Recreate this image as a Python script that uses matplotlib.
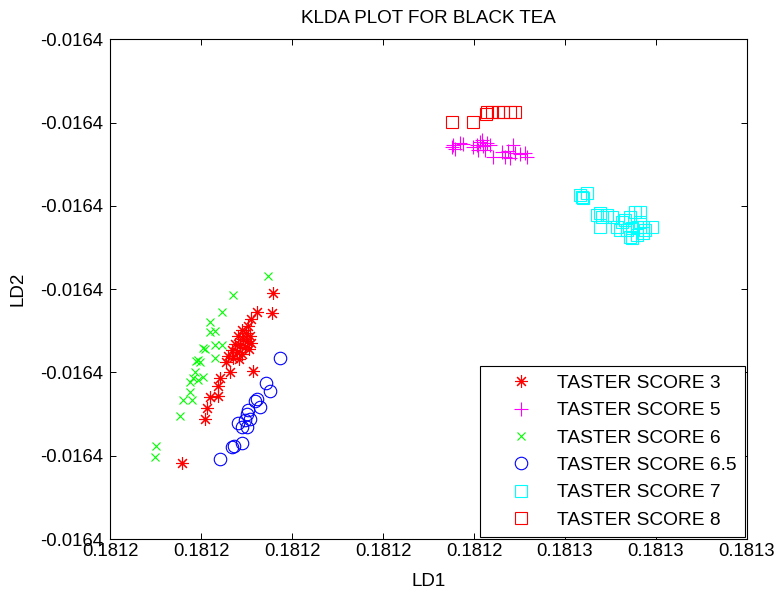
import numpy as np
import matplotlib
matplotlib.use("Agg")
import matplotlib.pyplot as plt
from matplotlib.ticker import FormatStrFormatter

plt.rcParams['font.family'] = ['Liberation Sans', 'DejaVu Sans']

# LD1 / LD2 scores
ld1_s3 = [0.1811958, 0.1811923, 0.1811956, 0.1811910, 0.1811903, 0.1811890, 0.1811899, 0.1811908,
          0.1811881, 0.1811892, 0.1811901, 0.1811910, 0.1811875, 0.1811886, 0.1811897, 0.1811905,
          0.1811868, 0.1811879, 0.1811890, 0.1811859, 0.1811870, 0.1811884, 0.1811864, 0.1811914,
          0.1811842, 0.1811837, 0.1811820, 0.1811837, 0.1811813, 0.1811809, 0.1811758, 0.1811855]
ld2_s3 = [-0.01640009, -0.01640055, -0.01640057, -0.01640072, -0.01640088, -0.01640098, -0.01640105, -0.01640112,
          -0.01640112, -0.01640120, -0.01640124, -0.01640129, -0.01640132, -0.01640134, -0.01640139, -0.01640144,
          -0.01640146, -0.01640151, -0.01640156, -0.01640160, -0.01640165, -0.01640168, -0.01640199, -0.01640196,
          -0.01640213, -0.01640232, -0.01640259, -0.01640256, -0.01640285, -0.01640312, -0.01640417, -0.01640175]

ld1_s5 = [0.1812354, 0.1812358, 0.1812369, 0.1812376, 0.1812352, 0.1812398, 0.1812407, 0.1812413,
          0.1812418, 0.1812420, 0.1812429, 0.1812435, 0.1812424, 0.1812409, 0.1812442, 0.1812462,
          0.1812468, 0.1812479, 0.1812486, 0.1812490, 0.1812501, 0.1812512, 0.1812517, 0.1812475]
ld2_s5 = [-0.01639654, -0.01639663, -0.01639649, -0.01639651, -0.01639659, -0.01639659, -0.01639654, -0.01639647,
          -0.01639642, -0.01639656, -0.01639649, -0.01639654, -0.01639666, -0.01639666, -0.01639683, -0.01639671,
          -0.01639683, -0.01639685, -0.01639654, -0.01639673, -0.01639675, -0.01639673, -0.01639683, -0.01639668]

ld1_s6 = [0.1811947, 0.1811870, 0.1811846, 0.1811820, 0.1811820, 0.1811831, 0.1811809, 0.1811804,
          0.1811831, 0.1811846, 0.1811793, 0.1811798, 0.1811789, 0.1811831, 0.1811787, 0.1811782,
          0.1811776, 0.1811804, 0.1811793, 0.1811776, 0.1811760, 0.1811780, 0.1811754, 0.1811701, 0.1811699]
ld2_s6 = [-0.01639968, -0.01640014, -0.01640055, -0.01640079, -0.01640103, -0.01640100, -0.01640144, -0.01640141,
          -0.01640134, -0.01640134, -0.01640170, -0.01640175, -0.01640172, -0.01640165, -0.01640199, -0.01640213,
          -0.01640223, -0.01640211, -0.01640218, -0.01640247, -0.01640266, -0.01640266, -0.01640305, -0.01640377,
          -0.01640403]

ld1_s65 = [0.1811974, 0.1811943, 0.1811952, 0.1811923, 0.1811919, 0.1811930, 0.1811903, 0.1811901,
           0.1811897, 0.1811908, 0.1811881, 0.1811890, 0.1811901, 0.1811868, 0.1811873, 0.1811890, 0.1811842]
ld2_s65 = [-0.01640165, -0.01640225, -0.01640244, -0.01640264, -0.01640268, -0.01640283, -0.01640290, -0.01640300,
           -0.01640314, -0.01640312, -0.01640321, -0.01640331, -0.01640331, -0.01640379, -0.01640377, -0.01640369,
           -0.01640408]

ld1_s7 = [0.1812633, 0.1812637, 0.1812648, 0.1812640, 0.1812677, 0.1812670, 0.1812681, 0.1812692,
          0.1812703, 0.1812677, 0.1812714, 0.1812725, 0.1812732, 0.1812743, 0.1812754, 0.1812765,
          0.1812736, 0.1812747, 0.1812758, 0.1812771, 0.1812791, 0.1812743, 0.1812758, 0.1812771,
          0.1812747, 0.1812721, 0.1812765, 0.1812776]
ld2_s7 = [-0.01639774, -0.01639779, -0.01639769, -0.01639781, -0.01639817, -0.01639822, -0.01639827, -0.01639822,
          -0.01639827, -0.01639851, -0.01639851, -0.01639839, -0.01639834, -0.01639827, -0.01639815, -0.01639815,
          -0.01639858, -0.01639853, -0.01639851, -0.01639851, -0.01639851, -0.01639875, -0.01639870, -0.01639865,
          -0.01639877, -0.01639858, -0.01639839, -0.01639858]

ld1_s8 = [0.1812352, 0.1812398, 0.1812426, 0.1812429, 0.1812440, 0.1812453, 0.1812464, 0.1812479, 0.1812490]
ld2_s8 = [-0.01639599, -0.01639599, -0.01639579, -0.01639575, -0.01639575, -0.01639575, -0.01639575,
          -0.01639575, -0.01639575]

x_ticks = [0.18116, 0.18118, 0.18120, 0.18122, 0.18124, 0.18126, 0.18128, 0.18130]
y_ticks = [-0.016406, -0.016404, -0.016402, -0.016400, -0.016398, -0.016396, -0.016394]

fig = plt.figure(figsize=(7.76, 5.92), dpi=100)
ax = fig.add_axes([110 / 776, 53 / 592, 637 / 776, 499.7 / 592])

# MATLAB style markers
ax.plot(ld1_s3, ld2_s3, ls='none', marker=(8, 2, 0), ms=9, color='#ff0000', mew=0.8, label='TASTER SCORE 3')
ax.plot(ld1_s5, ld2_s5, ls='none', marker='+', ms=9.5, color='#ff00ff', mew=0.8, label='TASTER SCORE 5')
ax.plot(ld1_s6, ld2_s6, ls='none', marker='x', ms=5.5, color='#00ff00', mew=0.8, label='TASTER SCORE 6')
ax.plot(ld1_s65, ld2_s65, ls='none', marker='o', ms=9, mfc='none', mec='#0000ff', mew=0.8, label='TASTER SCORE 6.5')
ax.plot(ld1_s7, ld2_s7, ls='none', marker='s', ms=8.6, mfc='none', mec='#00ffff', mew=0.8, label='TASTER SCORE 7')
ax.plot(ld1_s8, ld2_s8, ls='none', marker='s', ms=8.6, mfc='none', mec='#ff0000', mew=0.8, label='TASTER SCORE 8')

ax.set_xlim(x_ticks[0], x_ticks[-1])
ax.set_ylim(y_ticks[0], y_ticks[-1])
ax.set_xticks(x_ticks)
ax.set_yticks(y_ticks)
ax.xaxis.set_major_formatter(FormatStrFormatter('%.4f'))
ax.yaxis.set_major_formatter(FormatStrFormatter('%.4f'))
ax.tick_params(direction='in', top=True, right=True, length=4.5, width=0.7, labelsize=13.3)
ax.tick_params(axis='x', pad=3)
ax.tick_params(axis='y', pad=5)
for s in ax.spines.values():
    s.set_linewidth(0.8)

ax.set_title('KLDA PLOT FOR BLACK TEA', fontsize=13.6, pad=12)
ax.set_xlabel('LD1', fontsize=13.5, labelpad=9)
ax.set_ylabel('LD2', fontsize=13.5, labelpad=10)

leg = ax.legend(loc='lower right', fontsize=13.8, fancybox=False, edgecolor='k', framealpha=1,
                borderaxespad=0.1, borderpad=0.43, labelspacing=0.52, handlelength=3.42,
                handletextpad=0.21, numpoints=1)
leg.get_frame().set_linewidth(0.8)

fig.savefig('out.png', dpi=100)
